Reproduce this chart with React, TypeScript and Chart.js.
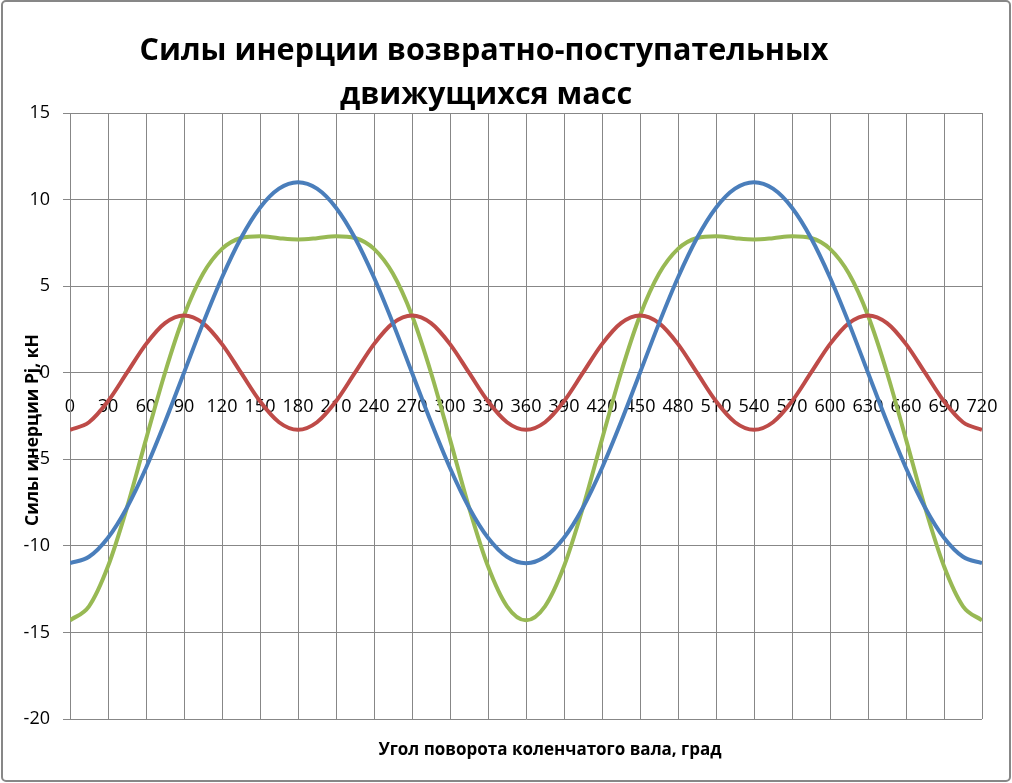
import React, { useEffect, useRef } from "react";
import { Chart, registerables } from "chart.js";

Chart.register(...registerables);

const angles = [
  0, 15, 30, 45, 60, 75, 90, 105, 120, 135, 150, 165, 180, 195, 210, 225, 240, 255, 270, 285, 300, 315, 330, 345, 360,
  375, 390, 405, 420, 435, 450, 465, 480, 495, 510, 525, 540, 555, 570, 585, 600, 615, 630, 645, 660, 675, 690, 705, 720,
];

const pj1 = [
  -11.0, -10.63, -9.53, -7.78, -5.5, -2.85, 0.0, 2.85, 5.5, 7.78, 9.53, 10.63, 11.0, 10.63, 9.53, 7.78, 5.5, 2.85, 0.0, -2.85, -5.5, -7.78, -9.53, -10.63, -11.0,
  -10.63, -9.53, -7.78, -5.5, -2.85, 0.0, 2.85, 5.5, 7.78, 9.53, 10.63, 11.0, 10.63, 9.53, 7.78, 5.5, 2.85, 0.0, -2.85, -5.5, -7.78, -9.53, -10.63, -11.0,
];

const pj2 = [
  -3.3, -2.86, -1.65, 0.0, 1.65, 2.86, 3.3, 2.86, 1.65, 0.0, -1.65, -2.86, -3.3, -2.86, -1.65, 0.0, 1.65, 2.86, 3.3, 2.86, 1.65, 0.0, -1.65, -2.86, -3.3,
  -2.86, -1.65, 0.0, 1.65, 2.86, 3.3, 2.86, 1.65, 0.0, -1.65, -2.86, -3.3, -2.86, -1.65, 0.0, 1.65, 2.86, 3.3, 2.86, 1.65, 0.0, -1.65, -2.86, -3.3,
];

const pjSum = [
  -14.3, -13.49, -11.18, -7.78, -3.85, 0.0, 3.3, 5.71, 7.15, 7.78, 7.88, 7.77, 7.7, 7.77, 7.88, 7.78, 7.15, 5.71, 3.3, 0.0, -3.85, -7.78, -11.18, -13.49, -14.3,
  -13.49, -11.18, -7.78, -3.85, 0.0, 3.3, 5.71, 7.15, 7.78, 7.88, 7.77, 7.7, 7.77, 7.88, 7.78, 7.15, 5.71, 3.3, 0.0, -3.85, -7.78, -11.18, -13.49, -14.3,
];

const titleLines = ["Силы инерции возвратно-поступательных", "движущихся масс"];
const xTitle = "Угол поворота коленчатого вала, град";
const yTitle = "Силы инерции Pj, кН";

const GRID = "#878787";
const FONT = "'Open Sans', 'DejaVu Sans', sans-serif";

const decorPlugin = {
  id: "decor",
  afterDraw(chart: any) {
    const ctx = chart.ctx as CanvasRenderingContext2D;
    ctx.save();
    // outer border
    ctx.strokeStyle = GRID;
    ctx.lineWidth = 2;
    ctx.beginPath();
    (ctx as any).roundRect(2, 1, 1008, 780, 4);
    ctx.stroke();
    // main title
    ctx.fillStyle = "#000";
    ctx.textAlign = "center";
    ctx.textBaseline = "alphabetic";
    ctx.font = `bold 30.5px ${FONT}`;
    ctx.fillText(titleLines[0], 484, 60);
    ctx.fillText(titleLines[1], 486, 104);
    // x title
    ctx.font = `bold 17px ${FONT}`;
    ctx.fillText(xTitle, 550, 755);
    // y title
    ctx.translate(38, 430);
    ctx.rotate(-Math.PI / 2);
    ctx.font = `bold 17.5px ${FONT}`;
    ctx.fillText(yTitle, 0, 0);
    ctx.restore();
  },
};

export default function App() {
  const ref = useRef<HTMLCanvasElement | null>(null);
  useEffect(() => {
    if (!ref.current) return;
    const mk = (vals: number[]) => angles.map((a, i) => ({ x: a, y: vals[i] }));
    const common = {
      borderWidth: 4,
      pointRadius: 0,
      fill: false,
      cubicInterpolationMode: "monotone" as const,
    };
    const chart = new Chart(ref.current, {
      type: "line",
      data: {
        datasets: [
          { ...common, label: "Pj1", data: mk(pj1), borderColor: "#4A7EBB" },
          { ...common, label: "Pj2", data: mk(pj2), borderColor: "#BE4B48" },
          { ...common, label: "Pj", data: mk(pjSum), borderColor: "#98B954" },
        ],
      },
      options: {
        responsive: false,
        animation: false,
        layout: { padding: { left: 0, right: 30, top: 113, bottom: 64 } },
        plugins: { legend: { display: false }, title: { display: false }, tooltip: { enabled: false } },
        scales: {
          x: {
            type: "linear",
            position: { y: 0 } as any,
            min: 0,
            max: 720,
            afterFit: (s: any) => {
              s.paddingLeft = 0;
              s.paddingRight = 0;
            },
            grid: { color: GRID, lineWidth: 1, drawTicks: false },
            border: { display: true, color: GRID, width: 1 },
            ticks: {
              stepSize: 30,
              autoSkip: false,
              maxRotation: 0,
              padding: 23,
              color: "#000",
              font: { family: FONT, size: 18 },
            },
          },
          y: {
            type: "linear",
            min: -20,
            max: 15,
            afterFit: (s: any) => {
              s.width = 70;
            },
            grid: { color: GRID, lineWidth: 1, drawTicks: true, tickLength: 7 },
            border: { display: true, color: GRID, width: 1 },
            ticks: {
              stepSize: 5,
              padding: 13,
              color: "#000",
              font: { family: FONT, size: 18 },
            },
          },
        },
      },
      plugins: [decorPlugin],
    });
    return () => chart.destroy();
  }, []);
  return (
    <div style={{ position: "fixed", left: 0, top: 0, width: 1012, height: 783, background: "#fff" }}>
      <canvas ref={ref} width={1012} height={783} style={{ width: 1012, height: 783, display: "block" }} />
    </div>
  );
}
